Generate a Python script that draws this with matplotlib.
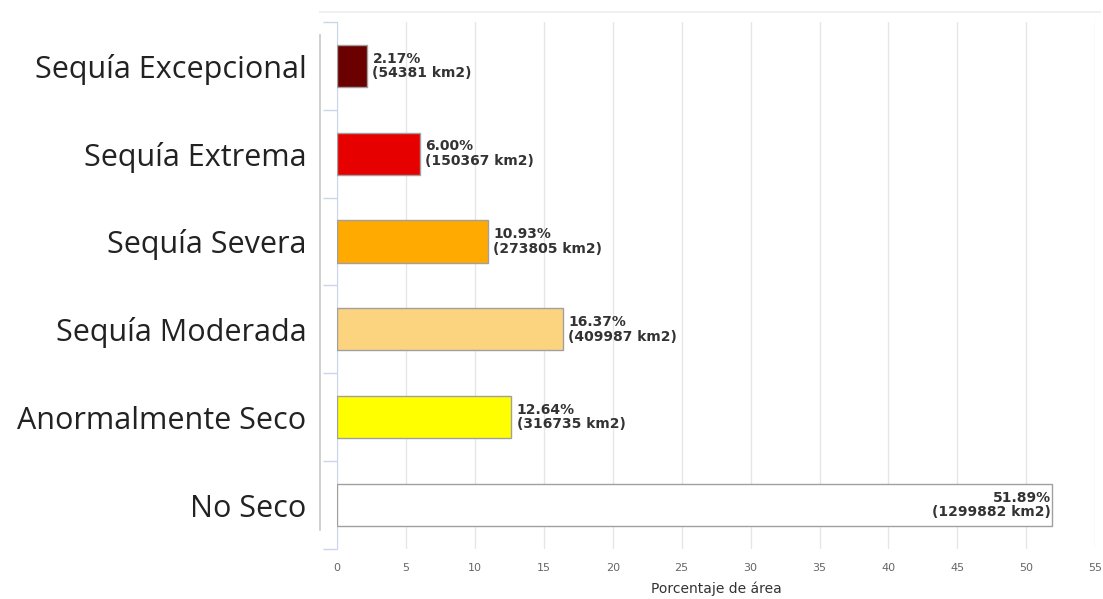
import matplotlib.pyplot as plt
from matplotlib.lines import Line2D

categories = ["Sequía Excepcional", "Sequía Extrema", "Sequía Severa",
              "Sequía Moderada", "Anormalmente Seco", "No Seco"]
percent = [2.17, 6.00, 10.93, 16.37, 12.64, 51.89]
area_km2 = [54381, 150367, 273805, 409987, 316735, 1299882]
colors = ["#6b0000", "#e60000", "#ffaa00", "#fcd37f", "#ffff00", "#ffffff"]
xticks = list(range(0, 56, 5))


def main():
    fig = plt.figure(figsize=(11.03, 5.99), dpi=100)
    ax = fig.add_axes([0.3055, 0.0835, 0.6875, 0.88])

    ypos = list(range(len(categories)))
    ax.barh(ypos, percent, height=0.48, color=colors,
            edgecolor="#a0a0a0", linewidth=1.0, zorder=3)

    for y, p, a in zip(ypos, percent, area_km2):
        label = f"{p:.2f}%\n({a} km2)"
        if p > 40:
            ax.text(p - 0.1, y, label, ha="right", va="center", fontsize=10,
                    fontweight="semibold", color="#333333", linespacing=1.05, zorder=4)
        else:
            ax.text(p + 0.4, y, label, ha="left", va="center", fontsize=10,
                    fontweight="semibold", color="#333333", linespacing=1.05, zorder=4)

    ax.set_ylim(len(categories) - 0.5, -0.5)
    ax.set_xlim(0, 55)
    ax.set_yticks(ypos)
    ax.set_yticklabels(categories, fontsize=22, color="#222222", family="Open Sans")
    ax.set_yticks([i + 0.5 for i in range(-1, len(categories))], minor=True)
    ax.tick_params(axis="y", which="major", length=0, pad=22)
    ax.tick_params(axis="y", which="minor", length=10, color="#ccd6eb", width=1)

    ax.set_xticks(xticks)
    ax.tick_params(axis="x", length=0, labelsize=8, labelcolor="#666666", pad=10)
    ax.set_xlabel("Porcentaje de área", fontsize=10, color="#333333", labelpad=6)

    ax.grid(axis="x", color="#e6e6e6", linewidth=1, zorder=0)
    for side in ["top", "right", "bottom"]:
        ax.spines[side].set_visible(False)
    ax.spines["left"].set_color("#ccd6eb")

    # faint frame lines around the plot
    fig.add_artist(Line2D([320 / 1103, 320 / 1103], [1 - 35 / 599, 1 - 530 / 599],
                          color="#c8c8c8", linewidth=1.2))
    fig.add_artist(Line2D([320 / 1103, 1100 / 1103], [1 - 12 / 599, 1 - 12 / 599],
                          color="#f0f0f0", linewidth=1.5))

    fig.savefig("out.png", dpi=100)


if __name__ == "__main__":
    main()
